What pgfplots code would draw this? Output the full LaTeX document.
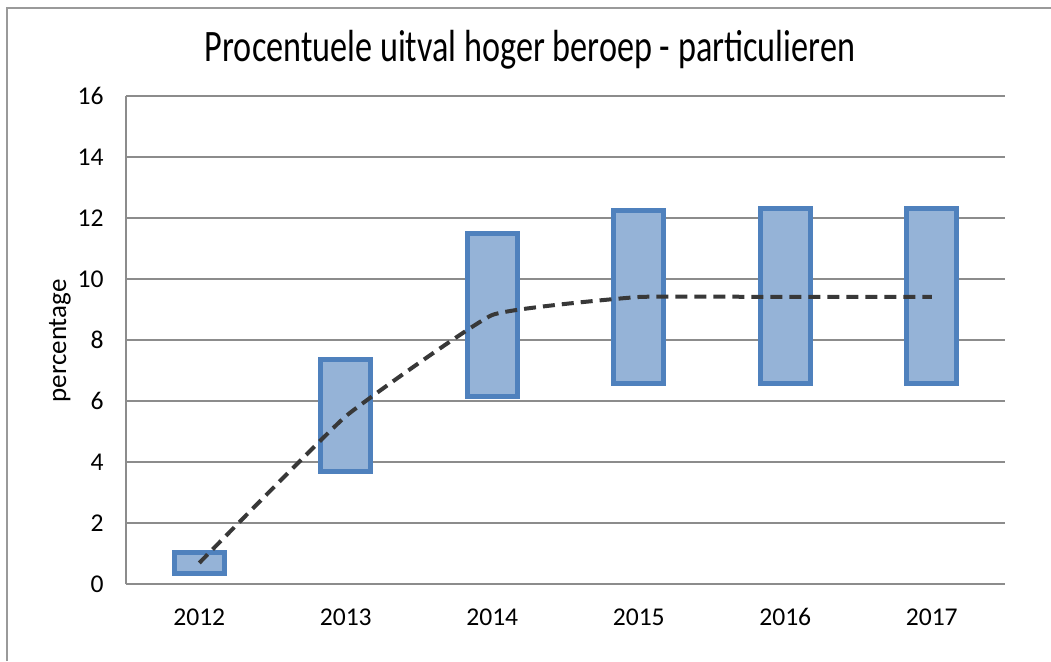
\documentclass[border=0pt]{standalone}
\usepackage{pgfplots}
\pgfplotsset{compat=1.18}
\usepackage{pgfplotstable}
\usepackage{fontspec}
\setmainfont{Carlito}
\definecolor{barfill}{HTML}{95B3D7}
\definecolor{baredge}{HTML}{4F81BD}
\definecolor{gridgray}{HTML}{8C8C8C}
\definecolor{framegray}{HTML}{9A9A9A}
\definecolor{linegray}{HTML}{383838}
\pgfplotstableread{
x low high
0 0.34 1.03
1 3.69 7.36
2 6.15 11.49
3 6.57 12.25
4 6.57 12.31
5 6.57 12.31
}\bars
\pgfplotstableread{
x y
0 0.69
1 5.50
2 8.82
3 9.41
4 9.41
5 9.41
}\avg
\pgfplotsset{
  common/.style={
    at={(63pt,38.5pt)}, anchor=south west,
    scale only axis, width=439.5pt, height=244pt,
    xmin=-0.5, xmax=5.5, ymin=0, ymax=16,
    clip=false,
  }
}
\begin{document}
\begin{tikzpicture}[x=1pt,y=1pt]
\useasboundingbox (0,0) rectangle (525.5,330.5);
\draw[draw=framegray, line width=1pt] (3.5,0) -- (3.5,326.5) -- (525.5,326.5);
\node[anchor=base] at (265,300) {\scalebox{0.76}[1]{\fontsize{22.5}{27}\selectfont Procentuele uitval hoger beroep - particulieren}};
\node[rotate=90] at (30,160) {\fontsize{13.5}{16}\selectfont percentage};
\begin{axis}[common,
  ybar stacked, bar width=0.34,
  ytick={0,2,...,16}, xtick={0,1,2,3,4,5},
  xticklabels={2012,2013,2014,2015,2016,2017},
  ymajorgrids, grid style={gridgray, line width=1pt},
  axis x line*=bottom, axis y line*=left,
  axis line style={gridgray, line width=1pt},
  major tick length=0pt,
  tick label style={font=\fontsize{12.8}{14}\selectfont, black},
  /pgf/number format/assume math mode=true,
  yticklabel style={anchor=east, inner sep=0pt, xshift=-11pt},
  xticklabel style={anchor=base, inner sep=0pt, yshift=-20.5pt},
]
\addplot[draw=none, fill=none] table[x=x, y=low] {\bars};
\addplot[fill=barfill, draw=baredge, line width=2.5pt] table[x=x, y expr=\thisrow{high}-\thisrow{low}] {\bars};
\end{axis}
\begin{axis}[common, hide axis]
\addplot[linegray, line width=2pt, dash pattern=on 6pt off 3.5pt, smooth, tension=0.2] table[x=x, y=y] {\avg};
\end{axis}
\end{tikzpicture}
\end{document}
